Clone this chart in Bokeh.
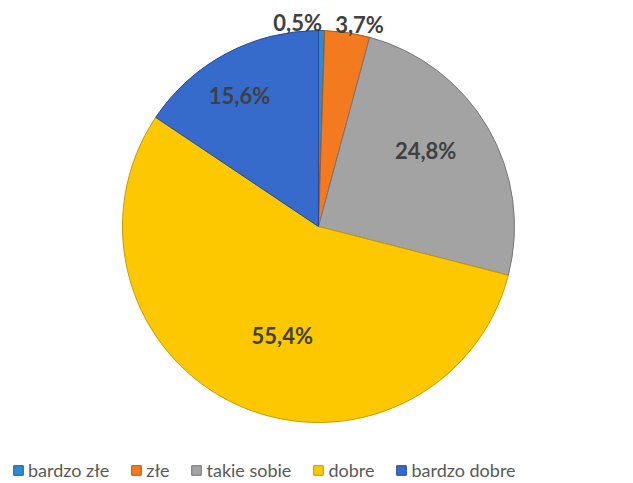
import math
from bokeh.plotting import figure
from bokeh.models import Range1d, ColumnDataSource, Legend, LegendItem
from bokeh.core.properties import value
from bokeh.embed import file_html
from bokeh.resources import INLINE

categories = ["bardzo złe", "złe", "takie sobie", "dobre", "bardzo dobre"]
shares = [0.5, 3.7, 24.8, 55.4, 15.6]
labels = ["0,5%", "3,7%", "24,8%", "55,4%", "15,6%"]

colors = ["#2F8AD2", "#F37A1F", "#A3A3A3", "#FDC800", "#376BCB"]
edges = ["#1D5E95", "#B85510", "#767676", "#C89A00", "#24499A"]
label_rfrac = [1.04, 1.04, 0.68, 0.59, 0.78]
label_dx = [-24, 11, -8, 11, -7]
label_dy = [0, 0, 9, -3, -4]

W, H = 633, 483
cx, cy, R = 318, 257, 196

total = sum(shares)
starts, ends, lx, ly = [], [], [], []
cum = 0.0
for i, s in enumerate(shares):
    a0 = math.pi / 2 - 2 * math.pi * cum / total
    a1 = math.pi / 2 - 2 * math.pi * (cum + s) / total
    starts.append(a0)
    ends.append(a1)
    mid = (a0 + a1) / 2
    r = R * label_rfrac[i]
    lx.append(cx + r * math.cos(mid) + label_dx[i])
    ly.append(cy + r * math.sin(mid) + label_dy[i])
    cum += s

src = ColumnDataSource(dict(cat=categories, start=starts, end=ends, color=colors,
                            edge=edges, lx=lx, ly=ly, label=labels))

p = figure(width=W, height=H, x_range=Range1d(0, W), y_range=Range1d(0, H),
           output_backend="svg", toolbar_location=None, min_border=0)
p.axis.visible = False
p.grid.visible = False
p.outline_line_color = None
p.background_fill_color = "white"

wr = p.wedge(x=cx, y=cy, radius=R, start_angle="start", end_angle="end",
             direction="clock", fill_color="color", line_color="edge",
             line_width=1, source=src)

p.text(x="lx", y="ly", text="label", source=src, text_align="center",
       text_baseline="middle", text_font=value("Lato"), text_font_style="bold",
       text_font_size="22px", text_color="#404040")

items = [LegendItem(label=c, renderers=[wr], index=i) for i, c in enumerate(categories)]
legend = Legend(items=items, orientation="horizontal", location=(12, 2),
                label_text_font="Lato", label_text_font_size="18px",
                label_text_color="#595959", glyph_width=12, glyph_height=12,
                label_standoff=4, spacing=21, padding=0, margin=0,
                border_line_color=None, background_fill_alpha=0)
p.add_layout(legend, "center")

open("out.html", "w").write(file_html(p, INLINE))
